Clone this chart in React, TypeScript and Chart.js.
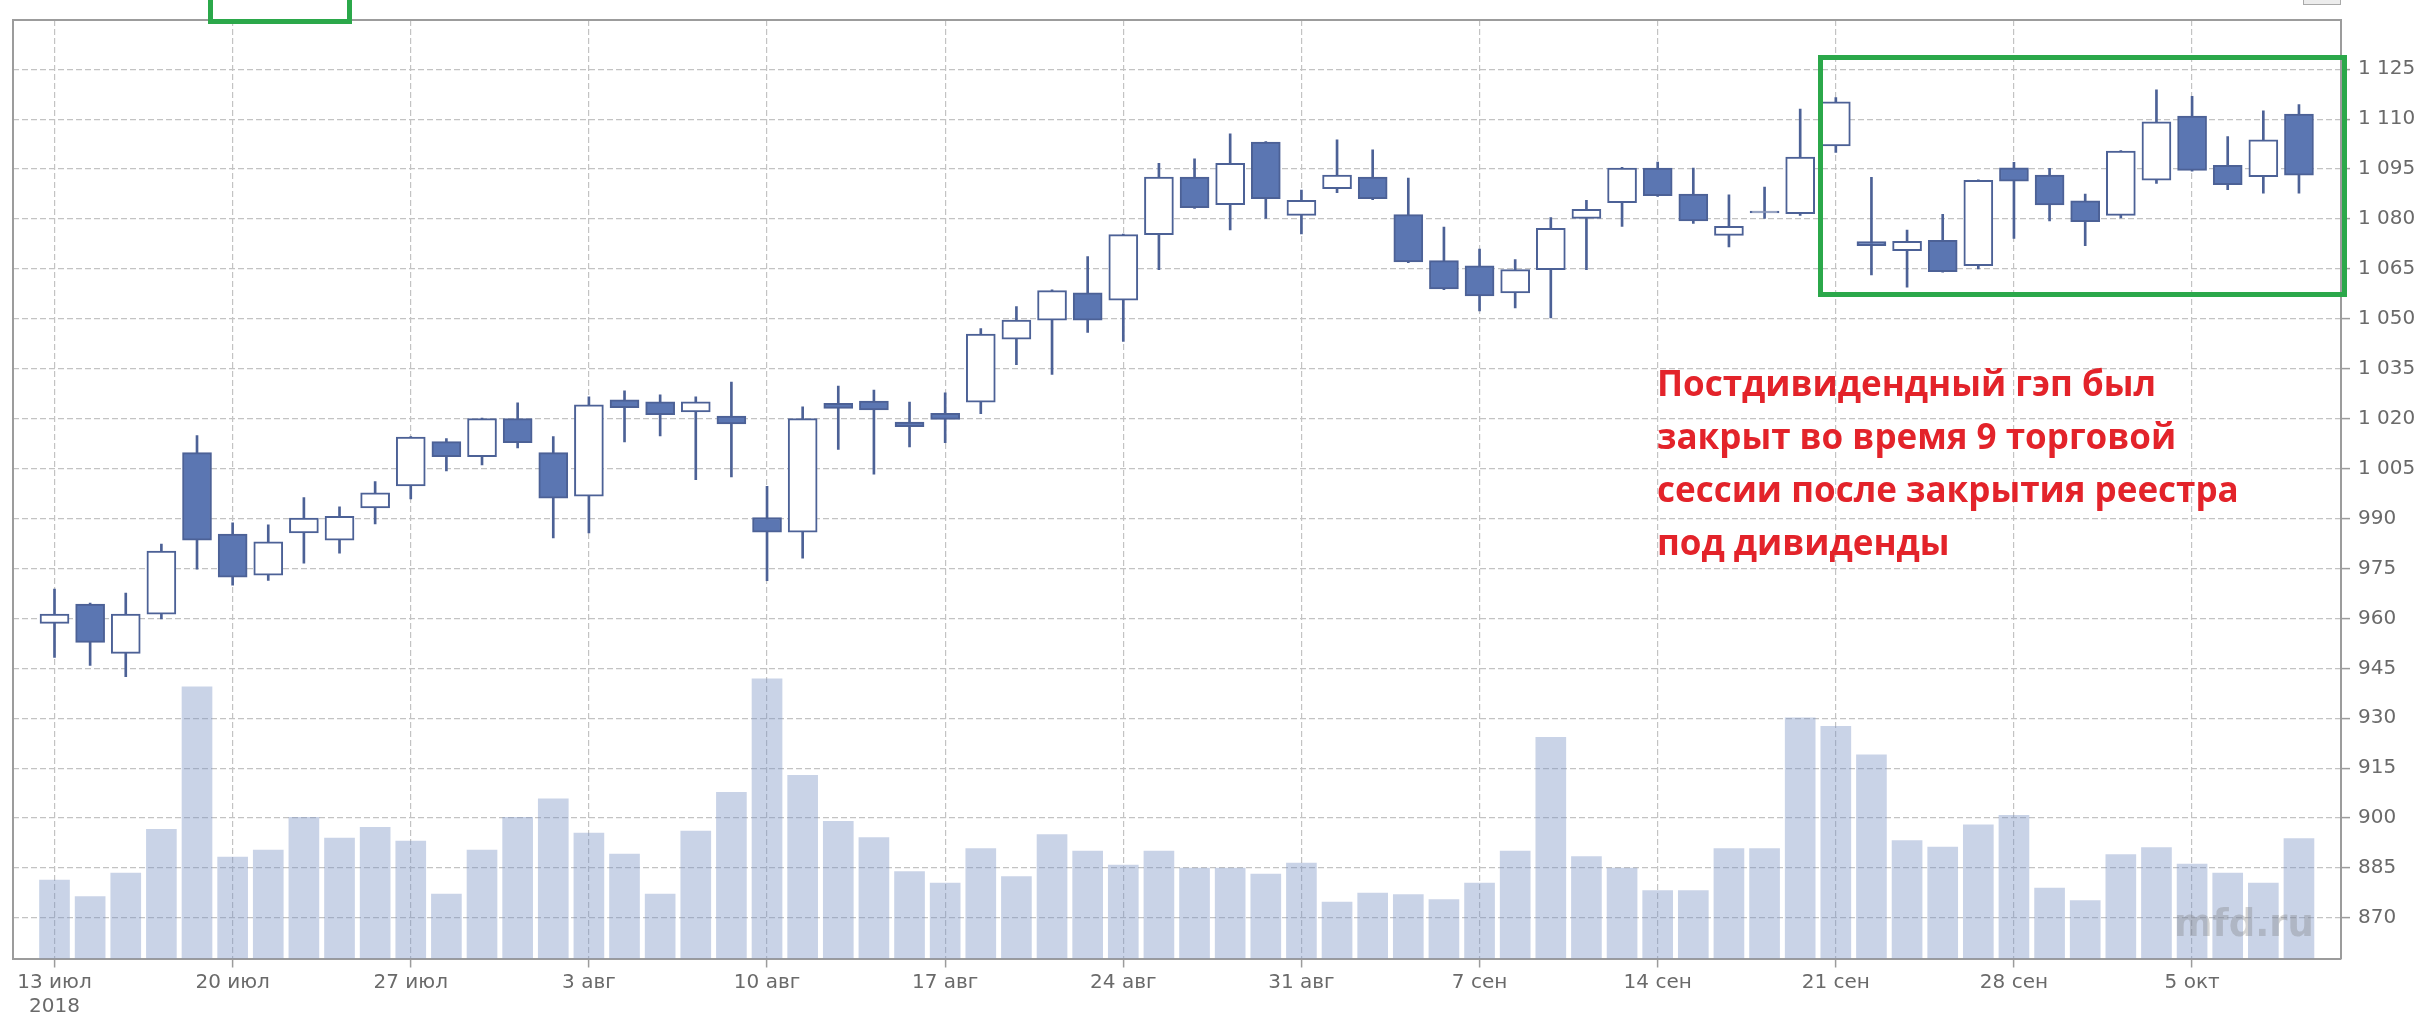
import React, { useEffect, useRef } from "react";
import { Chart, registerables } from "chart.js";

Chart.register(...registerables);

// дневные свечи 13 июл - 10 окт 2018
const opens = [
  958.5, 964.3, 949.5, 961.3, 1009.8, 985.3, 973.0, 985.7, 983.5, 993.2,
  999.8, 1013.1, 1008.6, 1020.0, 1009.8, 996.7, 1025.7, 1025.1, 1022.0, 1020.8,
  990.3, 985.9, 1024.6, 1025.3, 1019.0, 1021.6, 1025.0, 1043.9, 1049.6, 1057.8,
  1055.6, 1075.3, 1092.6, 1084.3, 1103.1, 1081.1, 1089.1, 1092.6, 1081.3, 1067.5,
  1065.9, 1057.8, 1064.8, 1080.2, 1084.9, 1095.3, 1087.5, 1075.1, 1081.8, 1081.6,
  1102.0, 1073.2, 1070.5, 1073.6, 1066.0, 1095.4, 1093.2, 1085.5, 1081.1, 1091.7,
  1110.9, 1096.1, 1092.7, 1111.5,
];
const highs = [
  968.8, 964.6, 967.6, 982.3, 1014.9, 988.7, 988.1, 996.3, 993.5, 1001.1,
  1014.6, 1014.0, 1020.2, 1024.8, 1014.6, 1026.6, 1028.4, 1027.2, 1026.6, 1031.0,
  999.7, 1023.6, 1029.8, 1028.6, 1025.0, 1027.8, 1047.1, 1053.7, 1058.7, 1068.7,
  1075.5, 1096.7, 1098.1, 1105.6, 1103.3, 1088.7, 1103.8, 1100.8, 1092.3, 1077.6,
  1071.0, 1067.8, 1080.4, 1085.6, 1095.5, 1097.1, 1095.3, 1087.3, 1089.6, 1113.0,
  1116.5, 1092.5, 1076.7, 1081.4, 1091.8, 1097.0, 1095.2, 1087.5, 1100.6, 1118.8,
  1116.9, 1104.8, 1112.5, 1114.4,
];
const lows = [
  948.3, 945.9, 942.5, 959.8, 974.8, 970.0, 971.4, 976.6, 979.6, 988.4,
  995.9, 1004.3, 1006.1, 1011.2, 984.2, 985.7, 1013.0, 1014.8, 1001.7, 1002.5,
  971.3, 978.1, 1010.8, 1003.3, 1011.5, 1012.8, 1021.5, 1036.2, 1033.3, 1045.9,
  1043.2, 1064.8, 1083.2, 1076.7, 1080.2, 1075.5, 1087.9, 1085.8, 1066.9, 1058.8,
  1052.4, 1053.3, 1050.3, 1064.8, 1077.8, 1086.8, 1078.7, 1071.6, 1080.2, 1081.1,
  1100.0, 1063.2, 1059.5, 1064.0, 1065.0, 1074.2, 1079.4, 1072.0, 1080.3, 1090.7,
  1094.4, 1088.8, 1087.8, 1087.8,
];
const closes = [
  961.3, 952.8, 961.3, 980.2, 983.5, 972.4, 983.0, 990.1, 990.7, 997.7,
  1014.5, 1008.6, 1020.0, 1012.8, 996.1, 1024.2, 1023.3, 1021.2, 1025.1, 1018.4,
  985.9, 1020.0, 1023.1, 1022.6, 1017.6, 1019.8, 1045.4, 1049.6, 1058.5, 1049.6,
  1075.3, 1092.6, 1083.4, 1096.7, 1086.1, 1085.6, 1093.2, 1086.1, 1067.1, 1059.0,
  1056.9, 1064.8, 1077.2, 1082.9, 1095.3, 1087.0, 1079.4, 1077.8, 1082.4, 1098.6,
  1115.2, 1072.0, 1073.3, 1064.2, 1091.6, 1091.4, 1084.2, 1079.2, 1100.4, 1109.2,
  1094.6, 1090.3, 1103.8, 1093.2,
];
const volumes = [
  15.7, 12.4, 17.1, 25.9, 54.4, 20.3, 21.7, 28.3, 24.1, 26.3,
  23.5, 12.9, 21.7, 28.3, 32.0, 25.1, 20.9, 12.9, 25.5, 33.3,
  56.0, 36.7, 27.5, 24.2, 17.4, 15.1, 22.0, 16.4, 24.8, 21.5,
  18.7, 21.5, 18.1, 18.1, 16.9, 19.1, 11.3, 13.1, 12.8, 11.8,
  15.1, 21.5, 44.3, 20.4, 18.1, 13.6, 13.6, 22.0, 22.0, 48.2,
  46.5, 40.8, 23.6, 22.3, 26.8, 28.7, 14.1, 11.6, 20.8, 22.2,
  18.9, 17.1, 15.1, 24.0,
];

const xTickPositions = [0, 5, 10, 15, 20, 25, 30, 35, 40, 45, 50, 55, 60];
const xTickLabels = [
  ["13 июл", "2018"], "20 июл", "27 июл", "3 авг", "10 авг", "17 авг", "24 авг",
  "31 авг", "7 сен", "14 сен", "21 сен", "28 сен", "5 окт",
];
const yTickValues = [
  870, 885, 900, 915, 930, 945, 960, 975, 990, 1005, 1020, 1035, 1050, 1065,
  1080, 1095, 1110, 1125,
];
const noteLines = [
  "Постдивидендный гэп был",
  "закрыт во время 9 торговой",
  "сессии после закрытия реестра",
  "под дивиденды",
];

const X_MIN = -1.165;
const X_MAX = 64.18;
const Y_MIN = 857.8;
const Y_MAX = 1139.8;

const DARK = "#5b76b2";
const EDGE = "#4c6196";
const FRAME = "#9c9c9c";
const GRIDC = "#c3c3c3";

function fmtPrice(v: number) {
  if (v >= 1000) return Math.floor(v / 1000) + " " + String(v % 1000).padStart(3, "0");
  return String(v);
}

function CandleChart() {
  const chartRef = useRef<HTMLCanvasElement | null>(null);

  useEffect(() => {
    let chartInstance: Chart | null = null;
    const ctx = chartRef.current?.getContext("2d");
    if (ctx) {
      const idx = opens.map((_, i) => i);
      const tickFont = { family: "DejaVu Sans", size: 20 };
      chartInstance = new Chart(ctx, {
        type: "bar",
        data: {
          datasets: [
            {
              label: "Объём",
              data: idx.map((i) => ({ x: i, y: volumes[i] })),
              xAxisID: "x",
              yAxisID: "yv",
              backgroundColor: "rgba(120,144,195,0.4)",
              barThickness: 30,
              grouped: false,
              order: 3,
            },
            {
              label: "Тени",
              data: idx.map((i) => ({ x: i, y: [lows[i], highs[i]] })),
              xAxisID: "x",
              yAxisID: "y",
              backgroundColor: EDGE,
              barThickness: 2,
              grouped: false,
              order: 2,
            },
            {
              label: "Тела",
              data: idx.map((i) => ({
                x: i,
                y: [Math.min(opens[i], closes[i]), Math.max(opens[i], closes[i])],
              })),
              xAxisID: "x",
              yAxisID: "y",
              backgroundColor: idx.map((i) => (closes[i] >= opens[i] ? "#ffffff" : DARK)),
              borderColor: EDGE,
              borderWidth: 2,
              borderSkipped: false,
              barThickness: 29,
              grouped: false,
              order: 1,
            },
          ],
        },
        options: {
          animation: false,
          responsive: true,
          maintainAspectRatio: false,
          layout: { padding: 0 },
          plugins: { legend: { display: false }, tooltip: { enabled: false } },
          scales: {
            x: {
              type: "linear",
              position: "bottom",
              min: X_MIN,
              max: X_MAX,
              offset: false,
              afterBuildTicks: (s: any) => {
                s.ticks = xTickPositions.map((v) => ({ value: v }));
              },
              afterFit: (s: any) => {
                s.height = 59.5;
              },
              ticks: {
                autoSkip: false,
                maxRotation: 0,
                padding: 3,
                color: "#6a6a6a",
                font: tickFont,
                callback: (_v: any, i: number) => xTickLabels[i],
              },
              grid: {
                color: GRIDC,
                lineWidth: 1.2,
                offset: false,
                tickLength: 9,
                tickColor: FRAME,
                tickWidth: 1.5,
                tickBorderDash: [],
              },
              border: { display: true, color: FRAME, width: 2, dash: [6, 3] },
            },
            xTop: {
              type: "linear",
              position: "top",
              min: X_MIN,
              max: X_MAX,
              ticks: { display: false },
              grid: { display: false },
              border: { display: true, color: FRAME, width: 2 },
              afterFit: (s: any) => {
                s.height = 8.3;
              },
            },
            y: {
              type: "linear",
              position: "right",
              min: Y_MIN,
              max: Y_MAX,
              beginAtZero: false,
              afterBuildTicks: (s: any) => {
                s.ticks = yTickValues.map((v) => ({ value: v }));
              },
              afterFit: (s: any) => {
                s.width = 84;
              },
              ticks: {
                padding: 8,
                color: "#6a6a6a",
                font: tickFont,
                callback: (v: any) => fmtPrice(Number(v)),
              },
              grid: {
                color: GRIDC,
                lineWidth: 1.2,
                tickLength: 9,
                tickColor: FRAME,
                tickWidth: 1.5,
                tickBorderDash: [],
              },
              border: { display: true, color: FRAME, width: 2, dash: [6, 3] },
            },
            yLeft: {
              type: "linear",
              position: "left",
              min: Y_MIN,
              max: Y_MAX,
              ticks: { display: false },
              grid: { display: false },
              border: { display: true, color: FRAME, width: 2 },
              afterFit: (s: any) => {
                s.width = 13;
              },
            },
            yv: {
              type: "linear",
              display: false,
              min: 0,
              max: 188,
            },
          },
        },
      });
    }

    return () => {
      if (chartInstance) {
        chartInstance.destroy();
      }
    };
  }, []);

  return <canvas ref={chartRef}></canvas>;
}

export default function App() {
  return (
    <div
      style={{
        position: "fixed",
        left: 0,
        top: 0,
        width: 2425,
        height: 1018,
        background: "#ffffff",
        overflow: "hidden",
      }}
    >
      <div style={{ position: "absolute", left: 0, top: 0, width: 2425, height: 1018 }}>
        <CandleChart />
      </div>
      {/* кусок иконки сверху справа */}
      <div
        style={{
          position: "absolute",
          left: 2303,
          top: -18,
          width: 36,
          height: 21,
          border: "1.5px solid #a9a9a9",
          background: "#ececec",
        }}
      />
      {/* зелёные рамки */}
      <div
        style={{
          position: "absolute",
          left: 208,
          top: -30,
          width: 144,
          height: 53.5,
          border: "5px solid #2ba84a",
          boxSizing: "border-box",
        }}
      />
      <div
        style={{
          position: "absolute",
          left: 1818,
          top: 55,
          width: 529,
          height: 242,
          border: "5px solid #2ba84a",
          boxSizing: "border-box",
        }}
      />
      <div
        style={{
          position: "absolute",
          left: 1657,
          top: 356,
          font: "bold 35px 'Open Sans'",
          lineHeight: "53px",
          color: "#e3232a",
          whiteSpace: "pre",
        }}
      >
        {noteLines.join("\n")}
      </div>
      <div
        style={{
          position: "absolute",
          left: 2174,
          top: 905,
          font: "bold 37px 'DejaVu Sans'",
          lineHeight: "37px",
          color: "rgba(120,120,120,0.32)",
        }}
      >
        mfd.ru
      </div>
    </div>
  );
}
